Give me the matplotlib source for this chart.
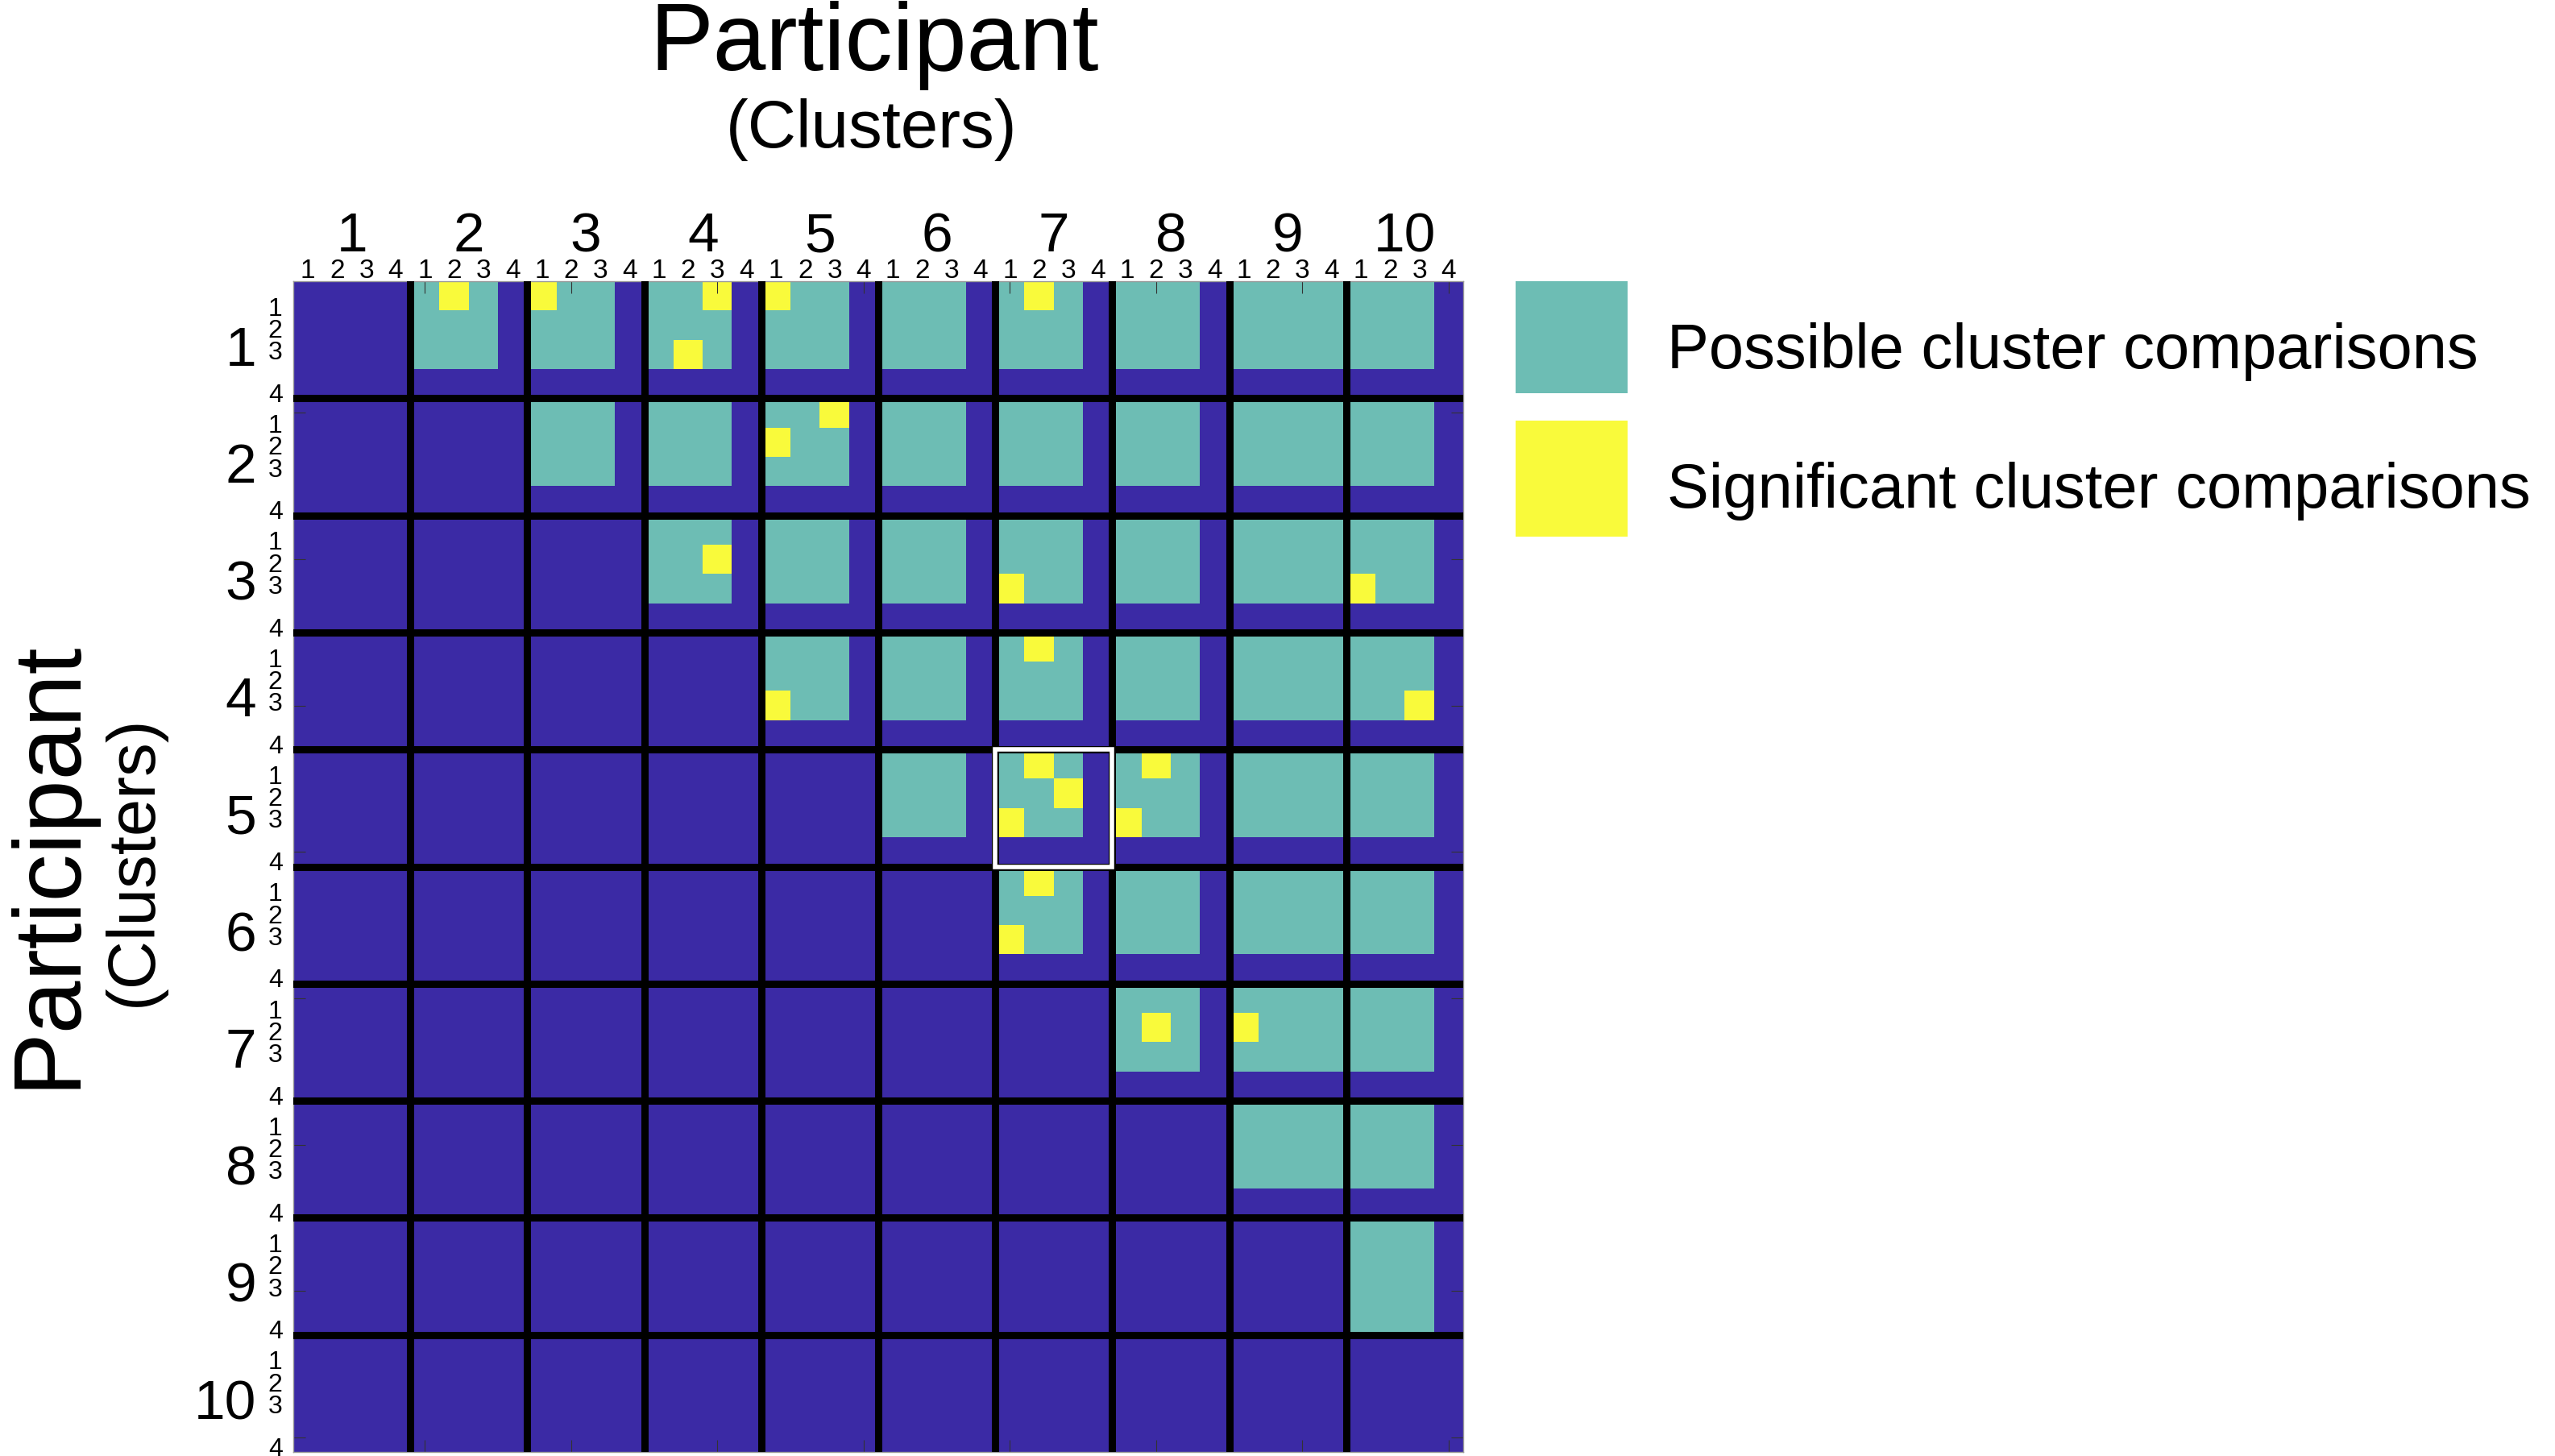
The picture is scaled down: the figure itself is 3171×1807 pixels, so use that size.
import numpy as np
import matplotlib.pyplot as plt
from matplotlib.colors import ListedColormap
from matplotlib.patches import Rectangle

# participants and how many clusters each one has (grid leaves room for 4)
participants = list(range(1, 11))
n_clusters = [3, 3, 3, 3, 3, 3, 3, 3, 4, 3]
max_clusters = 4

# significant comparisons: (row participant, row cluster, col participant, col cluster)
significant = [
    (1, 1, 2, 2), (1, 1, 3, 1), (1, 1, 4, 3), (1, 3, 4, 2), (1, 1, 5, 1), (1, 1, 7, 2),
    (2, 1, 5, 3), (2, 2, 5, 1),
    (3, 2, 4, 3), (3, 3, 7, 1), (3, 3, 10, 1),
    (4, 3, 5, 1), (4, 1, 7, 2), (4, 3, 10, 3),
    (5, 1, 7, 2), (5, 2, 7, 3), (5, 3, 7, 1), (5, 1, 8, 2), (5, 3, 8, 1),
    (6, 1, 7, 2), (6, 3, 7, 1),
    (7, 2, 8, 2), (7, 2, 9, 1),
]
highlight = (5, 7)  # block outlined in white

dark = '#3B2AA5'
teal = '#6DBDB4'
yellow = '#F9FA3B'

plt.rcParams['font.family'] = ['Liberation Sans', 'DejaVu Sans']

W, H = 3171, 1808
fx = lambda x: x / W
fy = lambda y: 1 - y / H

fig = plt.figure(figsize=(W / 100, H / 100), dpi=100)
ax = fig.add_axes([fx(364), fy(1803), 1452 / W, 1453 / H])

n_p = len(participants)
N = n_p * max_clusters
grid = np.zeros((N, N))
for i in range(n_p):
    for j in range(i + 1, n_p):
        grid[i * max_clusters:i * max_clusters + n_clusters[i],
             j * max_clusters:j * max_clusters + n_clusters[j]] = 1
for pi, ci, pj, cj in significant:
    grid[(pi - 1) * max_clusters + ci - 1, (pj - 1) * max_clusters + cj - 1] = 2

ax.imshow(grid, cmap=ListedColormap([dark, teal, yellow]), vmin=0, vmax=2,
          extent=(0, N, N, 0), interpolation='nearest', aspect='auto')

# black separators between participants
for k in range(1, n_p):
    ax.axvline(k * max_clusters, color='black', lw=6.5, zorder=3)
    ax.axhline(k * max_clusters, color='black', lw=6.5, zorder=3)

hr, hc = highlight
ax.add_patch(Rectangle(((hc - 1) * max_clusters, (hr - 1) * max_clusters), max_clusters, max_clusters,
                       fill=False, ec='white', lw=4, zorder=4))

ax.set_xlim(0, N)
ax.set_ylim(N, 0)
ticks = np.arange(5, N + 1, 5) - 0.5
ax.set_xticks(ticks)
ax.set_yticks(ticks)
ax.set_xticklabels([])
ax.set_yticklabels([])
ax.tick_params(direction='in', length=11, width=0.8, color='#333333',
               top=True, bottom=True, left=True, right=True)
for s in ax.spines.values():
    s.set_color('#999999')
    s.set_linewidth(1)

# participant / cluster labels
xt = ax.get_xaxis_transform()
yt = ax.get_yaxis_transform()
left_offsets = [1.15, 1.9, 2.65, 4.1]
for p in participants:
    base = (p - 1) * max_clusters
    ax.annotate(str(p), xy=(base + 2, 1), xycoords=xt, xytext=(0, 27), textcoords='offset points',
                ha='center', va='baseline', fontsize=50, annotation_clip=False)
    ax.annotate(str(p), xy=(0, base + 2.85), xycoords=yt, xytext=(-33, 0), textcoords='offset points',
                ha='right', va='baseline', fontsize=50, annotation_clip=False)
    for k in range(max_clusters):
        ax.annotate(str(k + 1), xy=(base + k + 0.5, 1), xycoords=xt, xytext=(0, 3.6),
                    textcoords='offset points', ha='center', va='baseline', fontsize=24,
                    annotation_clip=False)
        ax.annotate(str(k + 1), xy=(0, base + left_offsets[k]), xycoords=yt, xytext=(-16, 0),
                    textcoords='offset points', ha='center', va='baseline', fontsize=23,
                    annotation_clip=False)

fig.text(fx(1085), fy(87), 'Participant', fontsize=85, ha='center', va='baseline')
fig.text(fx(1082), fy(183), '(Clusters)', fontsize=60, ha='center', va='baseline')
fig.text(fx(91), fy(1072), 'Participant', fontsize=85, ha='center', va='baseline',
         rotation=90, rotation_mode='anchor')
fig.text(fx(188), fy(1068), '(Clusters)', fontsize=60, ha='center', va='baseline',
         rotation=90, rotation_mode='anchor')

# legend
fig.patches.append(Rectangle((fx(1881), fy(489)), 139 / W, 139 / H, transform=fig.transFigure,
                             facecolor=teal, edgecolor='none'))
fig.patches.append(Rectangle((fx(1881), fy(667)), 139 / W, 144 / H, transform=fig.transFigure,
                             facecolor=yellow, edgecolor='none'))
fig.text(fx(2069), fy(457), 'Possible cluster comparisons', fontsize=56, va='baseline')
fig.text(fx(2069), fy(630), 'Significant cluster comparisons', fontsize=56, va='baseline')

fig.savefig('out.png', dpi=100, facecolor='white')
